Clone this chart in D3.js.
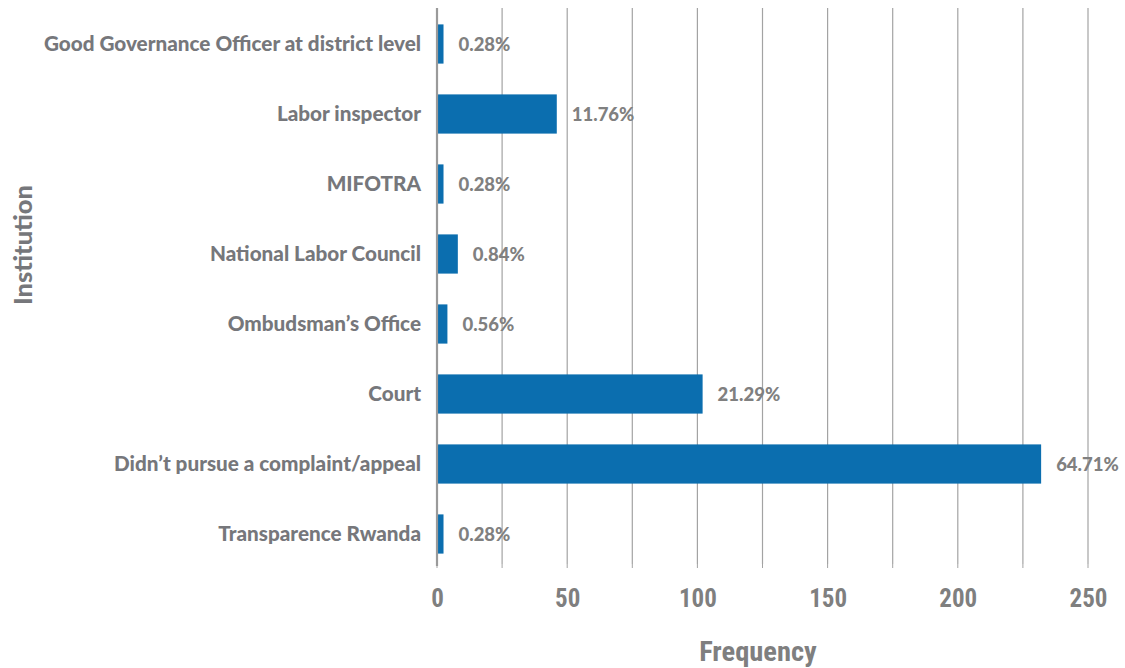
<!DOCTYPE html>
<html>
<head>
<meta charset="utf-8">
<script src="https://cdn.jsdelivr.net/npm/d3@7"></script>
<style>
  html, body { margin: 0; padding: 0; background: #fff; }
  svg { display: block; }
</style>
</head>
<body>
<div id="chart"></div>
<script>
const categories = [
  "Good Governance Officer at district level",
  "Labor inspector",
  "MIFOTRA",
  "National Labor Council",
  "Ombudsman’s Office",
  "Court",
  "Didn’t pursue a complaint/appeal",
  "Transparence Rwanda"
];
const frequencies = [2.5, 46, 2.5, 8, 4, 102, 232, 2.5];
const percentLabels = ["0.28%", "11.76%", "0.28%", "0.84%", "0.56%", "21.29%", "64.71%", "0.28%"];
const tickValues = [0, 50, 100, 150, 200, 250];
const gridValues = [25, 50, 75, 100, 125, 150, 175, 200, 225, 250];
const xTitle = "Frequency";
const yTitle = "Institution";

const W = 1125, H = 668;
const x0 = 437, x250 = 1088;
const plotTop = 8, plotBottom = 564;

const svg = d3.select("#chart").append("svg").attr("width", W).attr("height", H);

const x = d3.scaleLinear().domain([0, 250]).range([x0, x250]);
const y = d3.scaleBand().domain(categories).range([9, 569]).paddingInner(0.44).paddingOuter(0.22);

const grey = "#76777b";
const heavy = 900;

// gridlines
svg.append("g").selectAll("line").data(gridValues).join("line")
  .attr("x1", d => x(d)).attr("x2", d => x(d))
  .attr("y1", plotTop).attr("y2", plotBottom)
  .attr("stroke", "#a3a3a3").attr("stroke-width", 1.2);

// tick marks below plot (every 25)
svg.append("g").selectAll("line").data([0].concat(gridValues)).join("line")
  .attr("x1", d => x(d)).attr("x2", d => x(d))
  .attr("y1", plotBottom).attr("y2", plotBottom + 4)
  .attr("stroke", "#a3a3a3").attr("stroke-width", 1);

// bars
svg.append("g").selectAll("rect").data(categories).join("rect")
  .attr("x", x(0))
  .attr("y", d => y(d))
  .attr("width", (d, i) => x(frequencies[i]) - x(0))
  .attr("height", y.bandwidth())
  .attr("fill", "#0b6eaf");

// baseline axis
svg.append("line")
  .attr("x1", x(0)).attr("x2", x(0))
  .attr("y1", plotTop).attr("y2", plotBottom + 2)
  .attr("stroke", "#9a9a9a").attr("stroke-width", 2.2);

// value labels
svg.append("g").selectAll("text").data(categories).join("text")
  .attr("x", (d, i) => x(frequencies[i]) + 15)
  .attr("y", d => y(d) + y.bandwidth() / 2)
  .attr("dy", "0.38em")
  .attr("font-family", "Lato, 'Open Sans', sans-serif")
  .attr("font-weight", heavy)
  .attr("font-size", 18.5)
  .attr("fill", "#808080")
  .text((d, i) => percentLabels[i]);

// category labels
svg.append("g").selectAll("text").data(categories).join("text")
  .attr("x", 421)
  .attr("y", d => y(d) + y.bandwidth() / 2)
  .attr("dy", "0.36em")
  .attr("text-anchor", "end")
  .attr("font-family", "Lato, 'Open Sans', sans-serif")
  .attr("font-weight", heavy)
  .attr("font-size", 20.7)
  .attr("fill", grey)
  .text(d => d);

// x tick labels
const xAxis = d3.axisBottom(x).tickValues(tickValues).tickSize(0).tickPadding(0);
const gx = svg.append("g").attr("transform", `translate(0, 607)`).call(xAxis);
gx.select(".domain").remove();
gx.selectAll("text")
  .attr("dy", 0)
  .attr("font-family", "'Liberation Sans Narrow', 'Roboto', sans-serif")
  .attr("font-stretch", "condensed")
  .attr("font-weight", 700)
  .attr("font-size", 25)
  .attr("fill", "#7f7f7f");

// x title
svg.append("text")
  .attr("x", 758).attr("y", 661)
  .attr("text-anchor", "middle")
  .attr("font-family", "'Liberation Sans Narrow', 'Roboto', sans-serif")
  .attr("font-stretch", "condensed")
  .attr("font-weight", 700)
  .attr("font-size", 28.5)
  .attr("fill", "#7f7f7f")
  .text(xTitle);

// y title
svg.append("text")
  .attr("transform", "translate(32, 245) rotate(-90)")
  .attr("text-anchor", "middle")
  .attr("font-family", "Lato, 'Open Sans', sans-serif")
  .attr("font-weight", heavy)
  .attr("font-size", 25.5)
  .attr("fill", grey)
  .text(yTitle);
</script>
</body>
</html>
